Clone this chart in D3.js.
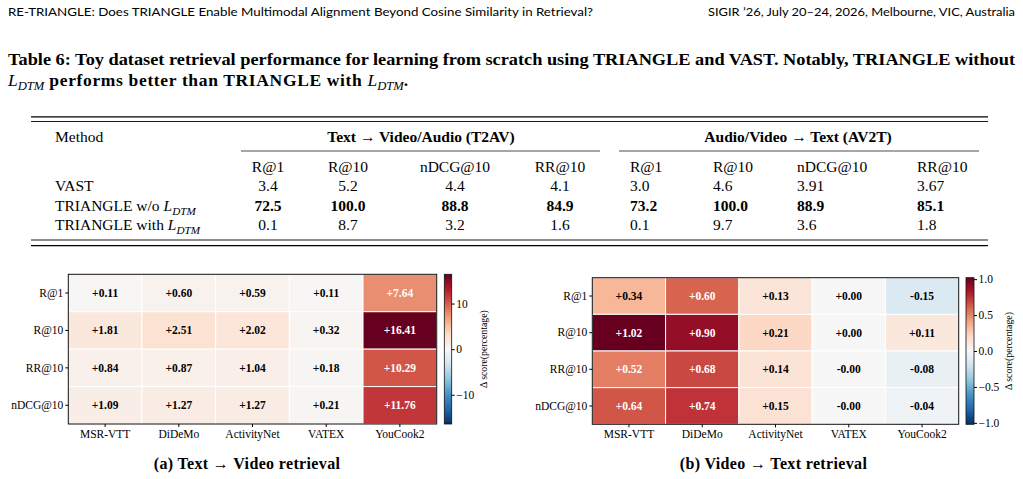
<!DOCTYPE html>
<html>
<head>
<meta charset="utf-8">
<script src="https://cdn.jsdelivr.net/npm/d3@7"></script>
<style>
body { margin: 0; background: #fff; }
svg text { fill: #000; }
</style>
</head>
<body>
<script>
// running head + caption text
var runningLeft = "RE-TRIANGLE: Does TRIANGLE Enable Multimodal Alignment Beyond Cosine Similarity in Retrieval?";
var runningRight = "SIGIR \u201926, July 20\u201324, 2026, Melbourne, VIC, Australia";
var captionLine1 = "Table 6: Toy dataset retrieval performance for learning from scratch using TRIANGLE and VAST. Notably, TRIANGLE without";

// table data
var tableGroups = ["Text \u2192 Video/Audio (T2AV)", "Audio/Video \u2192 Text (AV2T)"];
var tableMetrics = ["R@1", "R@10", "nDCG@10", "RR@10"];
var tableMethods = ["VAST", "TRIANGLE w/o", "TRIANGLE with"];
var methodHasLoss = [false, true, true];
var t2avValues = [
  ["3.4", "5.2", "4.4", "4.1"],
  ["72.5", "100.0", "88.8", "84.9"],
  ["0.1", "8.7", "3.2", "1.6"]
];
var av2tValues = [
  ["3.0", "4.6", "3.91", "3.67"],
  ["73.2", "100.0", "88.9", "85.1"],
  ["0.1", "9.7", "3.6", "1.8"]
];
var boldRow = 1;

// heatmap data
var datasets = ["MSR-VTT", "DiDeMo", "ActivityNet", "VATEX", "YouCook2"];
var metrics = ["R@1", "R@10", "RR@10", "nDCG@10"];
var t2vDelta = [
  [0.11, 0.60, 0.59, 0.11, 7.64],
  [1.81, 2.51, 2.02, 0.32, 16.41],
  [0.84, 0.87, 1.04, 0.18, 10.29],
  [1.09, 1.27, 1.27, 0.21, 11.76]
];
var v2tDelta = [
  [0.34, 0.60, 0.13, 0.00, -0.15],
  [1.02, 0.90, 0.21, 0.00, 0.11],
  [0.52, 0.68, 0.14, -0, -0.08],
  [0.64, 0.74, 0.15, -0, -0.04]
];
var t2vTicks = [-10, 0, 10];
var v2tTicks = [-1, -0.5, 0, 0.5, 1];
var subCaptions = ["(a) Text \u2192 Video retrieval", "(b) Video \u2192 Text retrieval"];

// matplotlib RdBu_r
var rdbu = ["#053061", "#2166ac", "#4393c3", "#92c5de", "#d1e5f0", "#f7f7f7",
            "#fddbc7", "#f4a582", "#d6604d", "#b2182b", "#67001f"];

var serif = "'Liberation Serif', 'Times New Roman', serif";
var sans = "Lato, 'Open Sans', sans-serif";

var svg = d3.select("body").append("svg")
  .attr("width", 1023)
  .attr("height", 479);

// running head
svg.append("text")
  .attr("class", "head")
  .attr("x", 8).attr("y", 16)
  .style("font-size", "11.5px")
  .attr("textLength", 585).attr("lengthAdjust", "spacingAndGlyphs")
  .text(runningLeft);
svg.append("text")
  .attr("class", "head")
  .attr("x", 708).attr("y", 16)
  .style("font-size", "11.5px")
  .attr("textLength", 307).attr("lengthAdjust", "spacingAndGlyphs")
  .text(runningRight);

// caption
svg.append("text")
  .attr("x", 8).attr("y", 65)
  .style("font-size", "17.5px").style("font-weight", "bold")
  .attr("textLength", 1007).attr("lengthAdjust", "spacingAndGlyphs")
  .text(captionLine1);

function addLoss(sel, size) {
  sel.append("tspan").style("font-style", "italic").style("font-weight", "normal").text("L");
  sel.append("tspan").attr("dy", size * 0.22)
    .style("font-style", "italic").style("font-weight", "normal")
    .style("font-size", (size * 0.72) + "px").text("DTM");
  return sel;
}

var cap2 = svg.append("text")
  .attr("x", 8).attr("y", 86)
  .style("font-size", "17.5px").style("font-weight", "bold");
addLoss(cap2, 17.5);
cap2.append("tspan").attr("dy", -17.5 * 0.22)
  .style("letter-spacing", "0.65px")
  .text(" performs better than TRIANGLE with ");
addLoss(cap2, 17.5);
cap2.append("tspan").attr("dy", -17.5 * 0.22).text(".");

// table
var tfs = 15.5;
var table = svg.append("g").style("font-size", tfs + "px");
var ruleX = [31, 988];
function rule(y, w, xa, xb) {
  table.append("line")
    .attr("x1", xa).attr("x2", xb).attr("y1", y).attr("y2", y)
    .attr("stroke", "#000").attr("stroke-width", w);
}
rule(116.8, 1.3, ruleX[0], ruleX[1]);
rule(121.5, 0.9, ruleX[0], ruleX[1]);
rule(240, 0.9, ruleX[0], ruleX[1]);
rule(245.6, 1.3, ruleX[0], ruleX[1]);
rule(151, 0.7, 241, 600);
rule(151, 0.7, 619, 979);

var rowY = [186, 206, 225];
var t2avX = [268, 348, 455, 560];
var av2tX = [630, 713, 797, 917];

table.append("text").attr("x", 55).attr("y", 136.7).attr("dy", "0.33em").text("Method");
table.selectAll("text.group")
  .data(tableGroups)
  .enter().append("text")
  .attr("class", "group")
  .attr("x", function(d, i) { return i === 0 ? 421 : 798 })
  .attr("y", 136.7).attr("dy", "0.33em")
  .attr("text-anchor", "middle")
  .style("font-weight", "bold")
  .text(function(d) { return d });

table.selectAll("text.m1")
  .data(tableMetrics)
  .enter().append("text")
  .attr("class", "m1")
  .attr("x", function(d, i) { return t2avX[i] })
  .attr("y", 166.7).attr("dy", "0.33em")
  .attr("text-anchor", "middle")
  .text(function(d) { return d });
table.selectAll("text.m2")
  .data(tableMetrics)
  .enter().append("text")
  .attr("class", "m2")
  .attr("x", function(d, i) { return av2tX[i] })
  .attr("y", 166.7).attr("dy", "0.33em")
  .text(function(d) { return d });

tableMethods.forEach(function(m, r) {
  var t = table.append("text").attr("x", 55).attr("y", rowY[r]).attr("dy", "0.33em");
  t.append("tspan").text(m + (methodHasLoss[r] ? " " : ""));
  if (methodHasLoss[r]) {
    addLoss(t, tfs);
  }
  t2avValues[r].forEach(function(v, c) {
    table.append("text")
      .attr("x", t2avX[c]).attr("y", rowY[r]).attr("dy", "0.33em")
      .attr("text-anchor", "middle")
      .style("font-weight", r === boldRow ? "bold" : "normal")
      .text(v);
  });
  av2tValues[r].forEach(function(v, c) {
    table.append("text")
      .attr("x", av2tX[c]).attr("y", rowY[r]).attr("dy", "0.33em")
      .style("font-weight", r === boldRow ? "bold" : "normal")
      .text(v);
  });
});

// heatmaps
function signed(v) {
  return (v < 0 || Object.is(v, -0) ? "-" : "+") + Math.abs(v).toFixed(2);
}

function drawHeatmap(values, box, ticks, tickFormat, caption, gid) {
  var flat = [];
  values.forEach(function(row, r) {
    row.forEach(function(v, c) {
      flat.push({row: metrics[r], col: datasets[c], value: v});
    });
  });
  var vmax = d3.max(flat, function(d) { return Math.abs(d.value) });

  var colorScale = d3.scaleLinear()
    .domain(d3.range(rdbu.length).map(function(i) { return -vmax + 2 * vmax * i / (rdbu.length - 1) }))
    .range(rdbu)
    .interpolate(d3.interpolateRgb);

  var xScale = d3.scaleBand().domain(datasets).range([box.x0, box.x1]);
  var yScale = d3.scaleBand().domain(metrics).range([box.y0, box.y1]);

  var g = svg.append("g");
  g.selectAll("rect.cell")
    .data(flat)
    .enter().append("rect")
    .attr("class", "cell")
    .attr("x", function(d) { return xScale(d.col) })
    .attr("y", function(d) { return yScale(d.row) })
    .attr("width", xScale.bandwidth())
    .attr("height", yScale.bandwidth())
    .attr("fill", function(d) { return colorScale(d.value) })
    .attr("stroke", "#fff")
    .attr("stroke-width", 1);

  g.selectAll("text.val")
    .data(flat)
    .enter().append("text")
    .attr("class", "val")
    .attr("x", function(d) { return xScale(d.col) + xScale.bandwidth() / 2 })
    .attr("y", function(d) { return yScale(d.row) + yScale.bandwidth() / 2 })
    .attr("dy", "0.35em")
    .attr("text-anchor", "middle")
    .style("font-size", "11.5px")
    .style("font-weight", "bold")
    .style("fill", function(d) { return Math.abs(d.value) / vmax > 0.4 ? "#fff" : "#000" })
    .text(function(d) { return signed(d.value) });

  g.append("rect")
    .attr("x", box.x0).attr("y", box.y0)
    .attr("width", box.x1 - box.x0).attr("height", box.y1 - box.y0)
    .attr("fill", "none").attr("stroke", "#111").attr("stroke-width", 1);

  var yAxis = g.append("g")
    .attr("transform", "translate(" + box.x0 + ",0)")
    .call(d3.axisLeft(yScale).tickSize(3).tickPadding(2));
  var xAxis = g.append("g")
    .attr("transform", "translate(0," + box.y1 + ")")
    .call(d3.axisBottom(xScale).tickSize(3).tickPadding(2.5));
  [xAxis, yAxis].forEach(function(a) {
    a.select(".domain").remove();
    a.selectAll("text").style("font-size", "11.5px");
  });

  // colorbar
  var grad = svg.append("defs").append("linearGradient")
    .attr("id", gid)
    .attr("x1", 0).attr("y1", 1).attr("x2", 0).attr("y2", 0);
  grad.selectAll("stop")
    .data(rdbu)
    .enter().append("stop")
    .attr("offset", function(d, i) { return i / (rdbu.length - 1) })
    .attr("stop-color", function(d) { return d });

  var cbScale = d3.scaleLinear().domain([-vmax, vmax]).range([box.y1, box.y0]);
  g.append("rect")
    .attr("x", box.cbX).attr("y", box.y0)
    .attr("width", box.cbW).attr("height", box.y1 - box.y0)
    .attr("fill", "url(#" + gid + ")")
    .attr("stroke", "#111").attr("stroke-width", 0.8);
  var cbAxis = g.append("g")
    .attr("transform", "translate(" + (box.cbX + box.cbW) + ",0)")
    .call(d3.axisRight(cbScale).tickValues(ticks).tickFormat(tickFormat).tickSize(3).tickPadding(1.5));
  cbAxis.select(".domain").remove();
  cbAxis.selectAll("text").style("font-size", "11.5px");

  g.append("text")
    .attr("transform", "translate(" + box.labelX + "," + ((box.y0 + box.y1) / 2) + ") rotate(-90)")
    .attr("text-anchor", "middle")
    .attr("dy", "0.35em")
    .style("font-size", "9.8px")
    .text("\u0394 score(percentage)");

  svg.append("text")
    .attr("x", box.capX).attr("y", 463).attr("dy", "0.35em")
    .attr("text-anchor", "middle")
    .style("font-size", "16px").style("font-weight", "bold")
    .style("letter-spacing", "0.35px")
    .text(caption);
}

drawHeatmap(t2vDelta,
  {x0: 68.3, x1: 436.7, y0: 274.3, y1: 424, cbX: 444.3, cbW: 7.4, labelX: 484, capX: 247},
  t2vTicks, d3.format("d"), subCaptions[0], "cbA");
drawHeatmap(v2tDelta,
  {x0: 592.3, x1: 958.7, y0: 277.7, y1: 424.3, cbX: 966, cbW: 8, labelX: 1009, capX: 773.5},
  v2tTicks, d3.format(".1f"), subCaptions[1], "cbB");

// fonts set straight on every text node
svg.selectAll("text, tspan").style("font-family", serif);
svg.selectAll("text.head").style("font-family", sans);
</script>
</body>
</html>
